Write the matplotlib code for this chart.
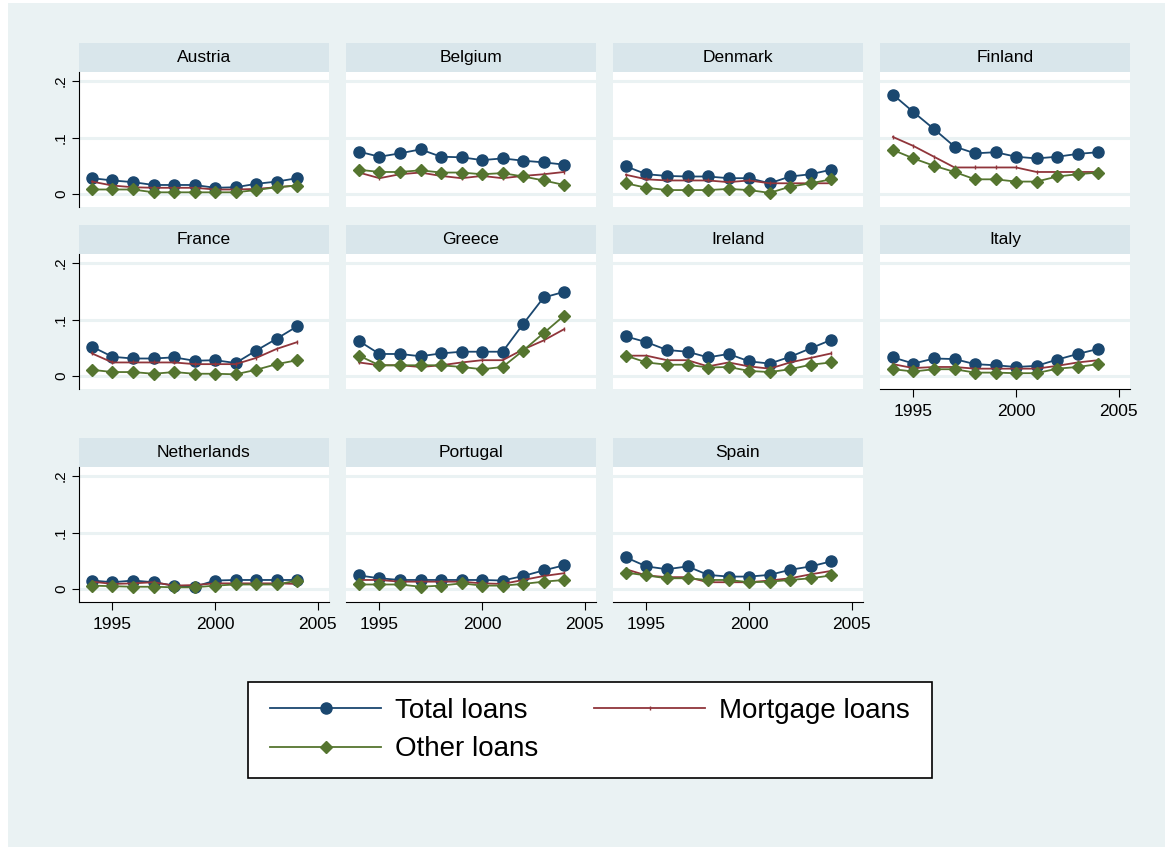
import matplotlib.pyplot as plt
from matplotlib.patches import Rectangle
from matplotlib.lines import Line2D

plt.rcParams['font.family'] = ['Liberation Sans', 'DejaVu Sans']

years = list(range(1994, 2005))
countries = ["Austria", "Belgium", "Denmark", "Finland",
             "France", "Greece", "Ireland", "Italy",
             "Netherlands", "Portugal", "Spain"]

# loan ratios per country, 1994-2004
total_loans = [
    [0.028, 0.024, 0.021, 0.016, 0.016, 0.016, 0.011, 0.012, 0.018, 0.022, 0.028],
    [0.075, 0.066, 0.072, 0.079, 0.066, 0.065, 0.060, 0.063, 0.059, 0.056, 0.052],
    [0.049, 0.035, 0.032, 0.031, 0.031, 0.028, 0.028, 0.019, 0.031, 0.035, 0.043],
    [0.176, 0.145, 0.115, 0.084, 0.072, 0.074, 0.066, 0.063, 0.066, 0.071, 0.074],
    [0.052, 0.034, 0.031, 0.031, 0.033, 0.027, 0.028, 0.023, 0.045, 0.066, 0.088],
    [0.062, 0.039, 0.039, 0.035, 0.040, 0.043, 0.043, 0.043, 0.092, 0.139, 0.149],
    [0.070, 0.060, 0.046, 0.043, 0.033, 0.039, 0.026, 0.022, 0.034, 0.049, 0.064],
    [0.033, 0.022, 0.031, 0.030, 0.021, 0.019, 0.016, 0.018, 0.029, 0.039, 0.048],
    [0.015, 0.012, 0.015, 0.012, 0.006, 0.004, 0.015, 0.016, 0.016, 0.016, 0.016],
    [0.024, 0.019, 0.016, 0.016, 0.016, 0.016, 0.016, 0.015, 0.023, 0.033, 0.042],
    [0.056, 0.040, 0.035, 0.040, 0.025, 0.022, 0.022, 0.025, 0.034, 0.040, 0.049],
]
mortgage_loans = [
    [0.022, 0.015, 0.012, 0.011, 0.011, 0.011, 0.008, 0.008, 0.009, 0.012, 0.015],
    [0.038, 0.028, 0.035, 0.038, 0.032, 0.028, 0.032, 0.028, 0.032, 0.035, 0.039],
    [0.034, 0.026, 0.024, 0.024, 0.024, 0.021, 0.024, 0.019, 0.019, 0.019, 0.019],
    [0.101, 0.085, 0.066, 0.047, 0.047, 0.047, 0.047, 0.039, 0.039, 0.039, 0.039],
    [0.040, 0.024, 0.024, 0.024, 0.024, 0.021, 0.021, 0.021, 0.032, 0.048, 0.060],
    [0.024, 0.019, 0.019, 0.016, 0.019, 0.024, 0.028, 0.028, 0.047, 0.063, 0.083],
    [0.036, 0.036, 0.028, 0.028, 0.017, 0.024, 0.017, 0.013, 0.024, 0.032, 0.040],
    [0.021, 0.014, 0.016, 0.016, 0.013, 0.013, 0.013, 0.013, 0.018, 0.024, 0.028],
    [0.013, 0.009, 0.010, 0.012, 0.006, 0.007, 0.010, 0.010, 0.010, 0.010, 0.009],
    [0.016, 0.016, 0.013, 0.013, 0.013, 0.013, 0.010, 0.009, 0.016, 0.023, 0.028],
    [0.035, 0.024, 0.021, 0.021, 0.012, 0.012, 0.012, 0.015, 0.019, 0.026, 0.032],
]
other_loans = [
    [0.008, 0.008, 0.008, 0.003, 0.003, 0.003, 0.003, 0.003, 0.007, 0.012, 0.015],
    [0.043, 0.039, 0.039, 0.042, 0.038, 0.038, 0.035, 0.037, 0.031, 0.024, 0.016],
    [0.019, 0.011, 0.007, 0.007, 0.007, 0.009, 0.007, 0.002, 0.013, 0.019, 0.026],
    [0.078, 0.063, 0.050, 0.039, 0.026, 0.026, 0.022, 0.022, 0.031, 0.035, 0.038],
    [0.011, 0.007, 0.007, 0.004, 0.007, 0.004, 0.004, 0.003, 0.011, 0.021, 0.028],
    [0.036, 0.019, 0.019, 0.019, 0.019, 0.016, 0.012, 0.016, 0.045, 0.076, 0.107],
    [0.036, 0.024, 0.020, 0.020, 0.015, 0.016, 0.009, 0.007, 0.012, 0.020, 0.024],
    [0.012, 0.008, 0.012, 0.012, 0.006, 0.006, 0.005, 0.005, 0.013, 0.016, 0.021],
    [0.006, 0.005, 0.004, 0.004, 0.003, 0.003, 0.006, 0.008, 0.008, 0.008, 0.015],
    [0.008, 0.008, 0.008, 0.004, 0.006, 0.010, 0.006, 0.006, 0.009, 0.013, 0.016],
    [0.029, 0.024, 0.019, 0.019, 0.016, 0.016, 0.012, 0.013, 0.016, 0.019, 0.024],
]

navy = "#1a476f"
maroon = "#90353b"
green = "#55752f"
bg = "#eaf2f3"
strip = "#d9e6eb"

W, H = 1165, 847
fig = plt.figure(figsize=(W / 100, H / 100), dpi=100, facecolor="white")
fig.patches.append(Rectangle((8 / W, 0), 1, 1 - 3 / H, transform=fig.transFigure,
                             facecolor=bg, edgecolor="none", zorder=-10))

col_left = [79, 346, 613, 880]
panel_w = 250
plot_top = [72, 254, 467]
plot_h = 135
strip_h = 29
bottom_panels = {"Italy", "Netherlands", "Portugal", "Spain"}


def px_box(x, y, w, h):
    return [x / W, 1 - (y + h) / H, w / W, h / H]


for i, name in enumerate(countries):
    r, c = divmod(i, 4)
    x0, y0 = col_left[c], plot_top[r]

    # grey title strip above each panel
    sax = fig.add_axes(px_box(x0, y0 - strip_h, panel_w, strip_h))
    sax.set_facecolor(strip)
    sax.set_xticks([])
    sax.set_yticks([])
    for s in sax.spines.values():
        s.set_visible(False)
    sax.text(0.5, 0.5, name, ha="center", va="center", fontsize=12.5,
             transform=sax.transAxes)

    ax = fig.add_axes(px_box(x0, y0, panel_w, plot_h))
    ax.set_facecolor("white")
    ax.set_xlim(1993.37, 2005.55)
    ax.set_ylim(-0.023, 0.216)
    for yv in [0, 0.1, 0.2]:
        ax.axhline(yv, color=bg, lw=2.2, zorder=0)

    ax.plot(years, total_loans[i], color=navy, lw=1.3, marker="o", ms=8, zorder=3)
    ax.plot(years, mortgage_loans[i], color=maroon, lw=1.3, marker="|", ms=3, mew=1, zorder=4)
    ax.plot(years, other_loans[i], color=green, lw=1.3, marker="D", ms=6.5, zorder=5)

    for s in ["top", "right"]:
        ax.spines[s].set_visible(False)
    ax.spines["left"].set_visible(c == 0)
    ax.spines["bottom"].set_visible(name in bottom_panels)

    if c == 0:
        ax.set_yticks([0, 0.1, 0.2])
        ax.set_yticklabels(["0", ".1", ".2"], rotation=90, va="center", fontsize=11)
        ax.tick_params(axis="y", direction="out", length=5, width=0.8, pad=3)
    else:
        ax.set_yticks([])

    if name in bottom_panels:
        ax.set_xticks([1995, 2000, 2005])
        ax.tick_params(axis="x", direction="out", length=6, width=0.8, labelsize=12.5, pad=5)
    else:
        ax.set_xticks([])

# legend box
fig.patches.append(Rectangle((248 / W, 1 - 778 / H), (932 - 248) / W, (778 - 682) / H,
                             transform=fig.transFigure, facecolor="white",
                             edgecolor="black", lw=1.2, zorder=-5))
handles = [
    Line2D([], [], color=navy, lw=1.3, marker="o", ms=8),
    Line2D([], [], color=green, lw=1.3, marker="D", ms=6.5),
    Line2D([], [], color=maroon, lw=1.3, marker="|", ms=3),
]
labels = ["Total loans", "Other loans", "Mortgage loans"]
fig.legend(handles, labels, ncol=2, loc="center",
           bbox_to_anchor=((248 + 932) / 2 / W, 1 - 730 / H),
           frameon=False, fontsize=20, handlelength=4, handletextpad=0.5,
           columnspacing=2.0, labelspacing=0.45)

fig.savefig("out.png", dpi=100, facecolor=fig.get_facecolor())
